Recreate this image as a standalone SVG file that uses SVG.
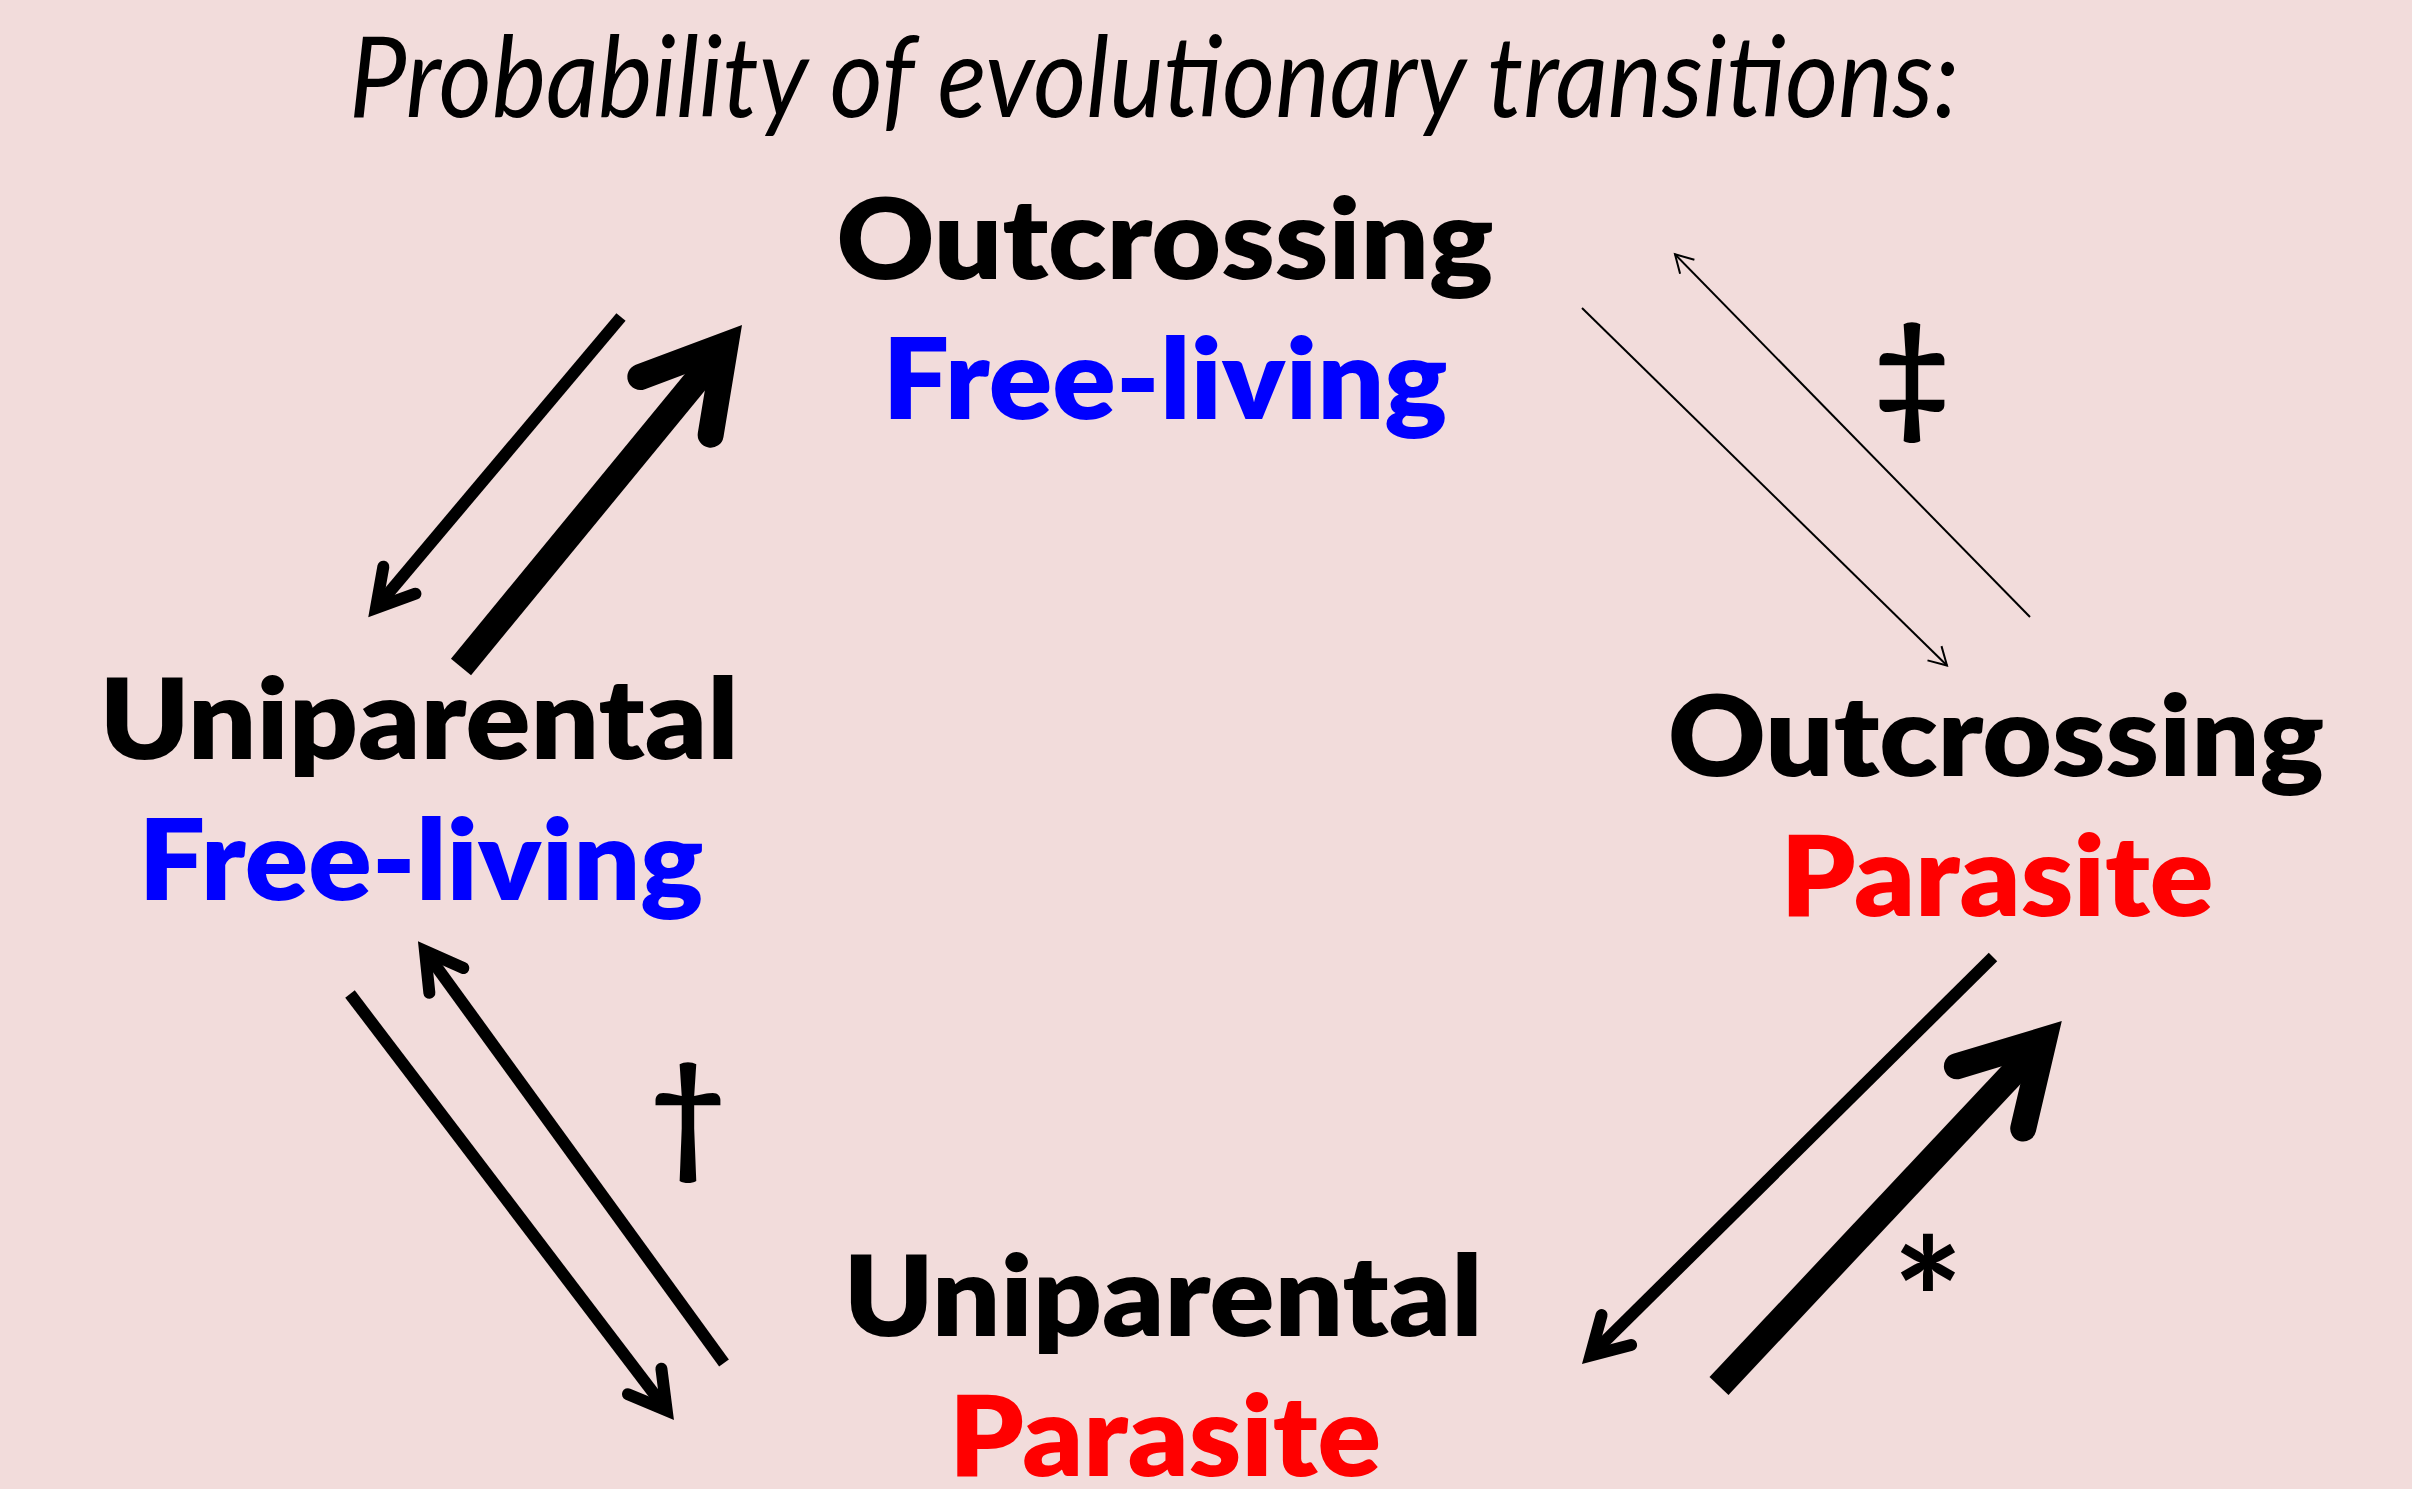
<svg xmlns="http://www.w3.org/2000/svg" width="2412" height="1489" viewBox="0 0 2412 1489">
<style>
.lbl{font-family:Lato,"Open Sans","Liberation Sans",sans-serif;font-weight:800;font-size:112px;text-anchor:middle}
.blk{fill:#000}
.blue{fill:#0000FF}
.red{fill:#FF0000}
.title{font-family:Lato,"Open Sans","Liberation Sans",sans-serif;font-style:italic;font-weight:400;font-size:112px;text-anchor:middle;fill:#000}
.sym{font-family:Lato,"DejaVu Sans",sans-serif;font-weight:700;text-anchor:middle;fill:#000}
.arr{fill:none;stroke:#000;stroke-linecap:butt;marker-end:url(#head)}
.hair{fill:none;stroke:#000;stroke-width:2;marker-end:url(#hhead)}
</style>
<defs>
<marker id="head" markerUnits="strokeWidth" orient="auto" overflow="visible" markerWidth="1" markerHeight="1" refX="0" refY="0">
<path d="M -3.03,-1.75 L 0,0 L -3.03,1.75" fill="none" stroke="#000" stroke-width="1" stroke-linejoin="miter" stroke-linecap="round"/>
</marker>
<marker id="hhead" markerUnits="userSpaceOnUse" orient="auto" overflow="visible" markerWidth="1" markerHeight="1" refX="0" refY="0">
<path d="M -17.5,-10 L 0,0 L -17.5,10" fill="none" stroke="#000" stroke-width="2" stroke-linejoin="miter"/>
</marker>
</defs>
<rect width="2412" height="1489" fill="#F2DCDB"/>
<text class="title" x="1154" y="117" textLength="1610" lengthAdjust="spacingAndGlyphs">Probability of evolutionary transitions:</text>
<g id="outcrossing-freeliving">
<text class="lbl blk" x="1165" y="279" textLength="657" lengthAdjust="spacingAndGlyphs">Outcrossing</text>
<text class="lbl blue" x="1165" y="419" textLength="565" lengthAdjust="spacingAndGlyphs">Free-living</text>
</g>
<g id="uniparental-freeliving">
<text class="lbl blk" x="419" y="759" textLength="639" lengthAdjust="spacingAndGlyphs">Uniparental</text>
<text class="lbl blue" x="421" y="900" textLength="565" lengthAdjust="spacingAndGlyphs">Free-living</text>
</g>
<g id="outcrossing-parasite">
<text class="lbl blk" x="1996" y="776" textLength="656" lengthAdjust="spacingAndGlyphs">Outcrossing</text>
<text class="lbl red" x="1997" y="916" textLength="433" lengthAdjust="spacingAndGlyphs">Parasite</text>
</g>
<g id="uniparental-parasite">
<text class="lbl blk" x="1163" y="1336" textLength="639" lengthAdjust="spacingAndGlyphs">Uniparental</text>
<text class="lbl red" x="1165" y="1476" textLength="432" lengthAdjust="spacingAndGlyphs">Parasite</text>
</g>
<g id="connectors">
<path class="arr" stroke-width="12" d="M 621,317 L 376,608"/>
<path class="arr" stroke-width="26" d="M 461,667 L 725.5,345"/>
<path class="hair" d="M 1582,308 L 1947,665.5"/>
<path class="hair" d="M 2030,617 L 1675,254.3"/>
<path class="arr" stroke-width="12" d="M 350,994 L 666.7,1410.4"/>
<path class="arr" stroke-width="12" d="M 724,1363 L 425,951"/>
<path class="arr" stroke-width="12" d="M 1993,957 L 1590.5,1355.6"/>
<path class="arr" stroke-width="26" d="M 1719,1386 L 2044,1040"/>
</g>
<g id="marks">
<text class="sym" x="1912" y="420" font-size="130">‡</text>
<text class="sym" x="688" y="1160" font-size="130">†</text>
<text class="sym" x="1928" y="1362" font-size="168">*</text>
</g>
</svg>
